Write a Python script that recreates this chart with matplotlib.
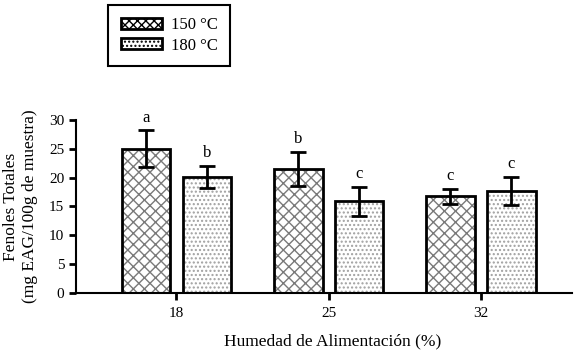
import numpy as np
import matplotlib.pyplot as plt
from matplotlib.patches import Patch

plt.rcParams['font.family'] = ['Liberation Serif', 'DejaVu Serif']
plt.rcParams['hatch.linewidth'] = 1.0

humedad = ['18', '25', '32']
t150 = [25.0, 21.5, 16.8]
t180 = [20.1, 15.9, 17.7]
err150 = [3.2, 3.0, 1.3]
err180 = [1.9, 2.5, 2.4]
let150 = ['a', 'b', 'c']
let180 = ['b', 'c', 'c']

x = np.arange(len(humedad))
w = 0.32
off = 0.2

fig = plt.figure(figsize=(5.85, 3.56), dpi=100)
ax = fig.add_axes([0.13, 0.177, 0.848, 0.486])

# hatched fill first, then black outline on top
ax.bar(x - off, t150, w, color='white', edgecolor='#7a7a7a', hatch='xxx', lw=0)
ax.bar(x + off, t180, w, color='white', edgecolor='#a0a0a0', hatch='....', lw=0)
ax.bar(x - off, t150, w, fill=False, edgecolor='black', lw=2)
ax.bar(x + off, t180, w, fill=False, edgecolor='black', lw=2)

ax.errorbar(x - off, t150, yerr=err150, fmt='none', ecolor='black', elinewidth=2, capsize=6, capthick=2)
ax.errorbar(x + off, t180, yerr=err180, fmt='none', ecolor='black', elinewidth=2, capsize=6, capthick=2)

for i in range(len(x)):
    ax.text(x[i] - off, t150[i] + err150[i] + 0.8, let150[i], ha='center', va='bottom', fontsize=12, clip_on=False)
    ax.text(x[i] + off, t180[i] + err180[i] + 0.8, let180[i], ha='center', va='bottom', fontsize=12, clip_on=False)

ax.set_xlim(-0.66, 2.6)
ax.set_ylim(0, 30)
ax.set_yticks(range(0, 31, 5))
ax.set_xticks(x)
ax.set_xticklabels(humedad)
ax.tick_params(axis='both', direction='out', length=5, width=2, labelsize=11)
ax.tick_params(axis='x', pad=5)
for s in ['top', 'right']:
    ax.spines[s].set_visible(False)
for s in ['left', 'bottom']:
    ax.spines[s].set_linewidth(1.5)

ax.set_xlabel('Humedad de Alimentación (%)', fontsize=12.5, labelpad=10)
ax.xaxis.label.set_x(0.517)
ax.set_ylabel('Fenoles Totales\n(mg EAG/100g de muestra)', fontsize=12.5, labelpad=8)

handles = [Patch(facecolor='white', edgecolor='black', hatch='xxxx', lw=2, label='150 °C'),
           Patch(facecolor='white', edgecolor='black', hatch='....', lw=2, label='180 °C')]
leg = fig.legend(handles=handles, loc='upper left', bbox_to_anchor=(0.185, 0.986), fontsize=12,
                 fancybox=False, edgecolor='black', framealpha=1, handlelength=2.5, handleheight=0.65,
                 handletextpad=0.5, borderpad=0.75, labelspacing=0.25, borderaxespad=0)
leg.get_frame().set_linewidth(1.5)

fig.savefig('out.png', dpi=100)
